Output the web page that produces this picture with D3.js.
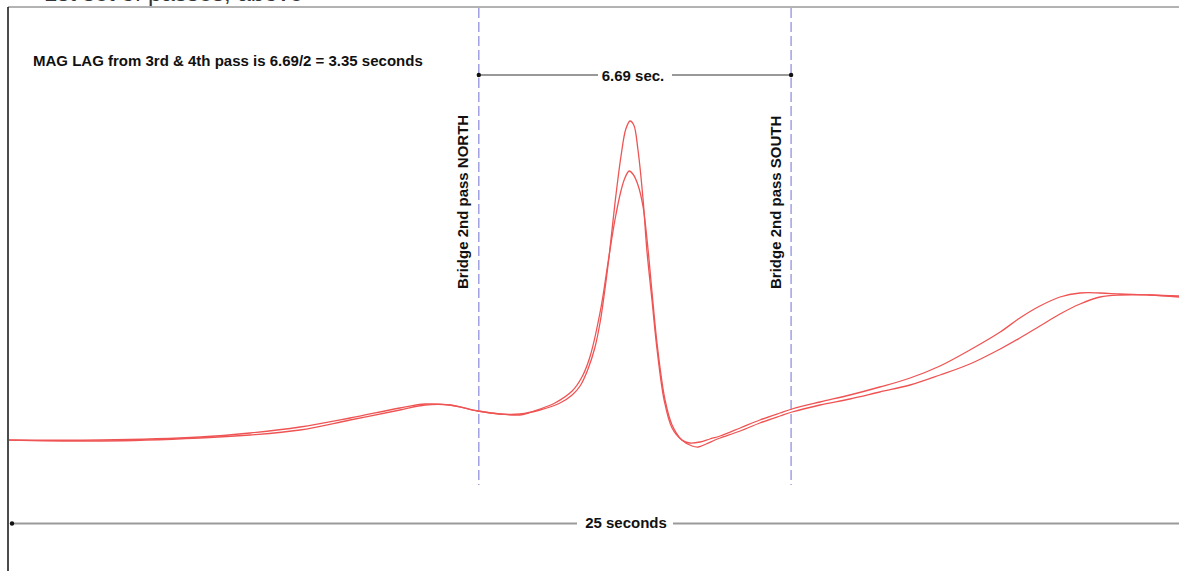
<!DOCTYPE html>
<html>
<head>
<meta charset="utf-8">
<script src="https://cdn.jsdelivr.net/npm/d3@7"></script>
<style>
  body { margin: 0; background: #fff; }
  svg { display: block; font-family: "Liberation Sans", Arial, sans-serif; }
</style>
</head>
<body>
<div id="chart"></div>
<script>
// pass A (taller peak) : time in seconds, signal in arbitrary units
var passA_t = [-0.09, 1.89, 4.03, 5.10, 6.17, 7.24, 8.31, 8.85, 9.38, 9.98, 10.45, 10.88, 11.31, 11.74, 12.00,
    12.17, 12.34, 12.49, 12.60, 12.68, 12.79, 12.92, 13.05, 13.15, 13.24, 13.32, 13.41, 13.52, 13.60, 13.71,
    13.82, 13.97, 14.14, 14.35, 14.52, 14.74, 14.95, 15.17, 15.60, 16.02, 16.45, 16.71, 17.31, 17.95, 18.59,
    19.24, 19.88, 20.52, 21.17, 21.59, 22.02, 22.45, 22.88, 23.31, 23.74, 24.38, 25.00];
var passA_v = [7, 7, 10, 14, 20, 29, 39, 43, 42, 36, 33, 33, 37, 44, 52,
    61, 78, 100, 125, 150, 190, 245, 292, 318, 326, 322, 297, 247, 197, 147,
    97, 47, 19, 7, 4, 5, 8, 11, 19, 27, 34, 38, 45, 52, 60,
    69, 81, 97, 115, 129, 141, 150, 154, 154, 153, 152, 150];

// pass B (lower peak)
var passB_t = [-0.09, 1.89, 4.03, 5.10, 6.17, 7.24, 8.31, 8.85, 9.38, 9.98, 10.45, 10.88, 11.31, 11.63, 12.00,
    12.21, 12.38, 12.62, 12.77, 12.92, 13.05, 13.13, 13.22, 13.30, 13.41, 13.52, 13.62, 13.71, 13.82, 13.99,
    14.14, 14.35, 14.57, 14.70, 14.87, 15.06, 15.17, 15.60, 16.02, 16.45, 16.71, 17.31, 17.95, 18.59, 19.24,
    19.88, 20.52, 21.17, 21.59, 22.02, 22.45, 22.88, 23.31, 23.74, 24.38, 25.00];
var passB_v = [7, 6, 9, 12, 17, 27, 37, 42, 42, 36, 33, 32, 38, 44, 56,
    70, 90, 140, 185, 228, 257, 269, 276, 273, 262, 240, 200, 155, 103, 47,
    22, 7, 1, 0, 3, 7, 9, 16, 24, 31, 35, 42, 48, 55, 62,
    72, 83, 98, 109, 121, 133, 143, 150, 152, 152, 151];

var bridgeTimes = [10.0, 16.69],
    bridgeLabels = ["Bridge 2nd pass NORTH", "Bridge 2nd pass SOUTH"],
    totalSeconds = 25,
    lagText = "MAG LAG from 3rd & 4th pass is 6.69/2 = 3.35 seconds",
    spanText = "6.69 sec.",
    totalText = "25 seconds",
    topText = "1st set of passes, above";

var width = 1179,
    height = 571,
    frameLeft = 8,
    frameTop = 7,
    lineColor = "#ef5454",
    dashColor = "#9a9ae2";

var svg = d3.select("#chart").append("svg")
    .attr("width", width)
    .attr("height", height);

var x = d3.scaleLinear()
    .domain([0, totalSeconds])
    .range([12, 1179]);

var y = d3.scaleLinear()
    .domain([0, 440])
    .range([447, 7]);

// caption of the page above, cut off by the crop
svg.append("text")
    .attr("x", 44)
    .attr("y", 0.5)
    .style("font-size", "24px")
    .attr("fill", "#333")
    .text(topText);

// frame
svg.append("line")
    .attr("x1", frameLeft).attr("x2", width)
    .attr("y1", frameTop).attr("y2", frameTop)
    .attr("stroke", "#666").attr("stroke-width", 1);
svg.append("line")
    .attr("x1", frameLeft).attr("x2", frameLeft)
    .attr("y1", frameTop).attr("y2", height)
    .attr("stroke", "#111").attr("stroke-width", 1.5);

// bridge markers
svg.selectAll("line.bridge")
    .data(bridgeTimes)
    .enter().append("line")
    .attr("class", "bridge")
    .attr("x1", d => x(d)).attr("x2", d => x(d))
    .attr("y1", frameTop + 1).attr("y2", 485)
    .attr("stroke", dashColor)
    .attr("stroke-width", 1.4)
    .attr("stroke-dasharray", "10,4");

svg.selectAll("text.bridge")
    .data(bridgeTimes)
    .enter().append("text")
    .attr("class", "bridge")
    .attr("transform", d => "translate(" + (x(d) - 10.5) + ",289) rotate(-90)")
    .style("font-size", "15px")
    .style("font-weight", "bold")
    .attr("fill", "#111")
    .text((d, i) => bridgeLabels[i]);

// signal traces
var line = d3.line()
    .x(d => x(d[0]))
    .y(d => y(d[1]))
    .curve(d3.curveCatmullRom.alpha(0.5));

var series = [d3.zip(passA_t, passA_v), d3.zip(passB_t, passB_v)];

svg.append("clipPath").attr("id", "clip")
    .append("rect")
    .attr("x", frameLeft + 1).attr("y", frameTop)
    .attr("width", width).attr("height", height);

svg.append("g")
    .attr("clip-path", "url(#clip)")
    .selectAll("path")
    .data(series)
    .enter().append("path")
    .attr("d", line)
    .attr("fill", "none")
    .attr("stroke", lineColor)
    .attr("stroke-width", 1.3);

// lag annotation
svg.append("text")
    .attr("x", 33)
    .attr("y", 66)
    .style("font-size", "15px")
    .style("font-weight", "bold")
    .attr("fill", "#111")
    .text(lagText);

var spanMid = 635, spanHalfGap = 37;
svg.append("line")
    .attr("x1", x(bridgeTimes[0])).attr("x2", spanMid - spanHalfGap)
    .attr("y1", 75).attr("y2", 75)
    .attr("stroke", "#333").attr("stroke-width", 1);
svg.append("line")
    .attr("x1", spanMid + spanHalfGap).attr("x2", x(bridgeTimes[1]))
    .attr("y1", 75).attr("y2", 75)
    .attr("stroke", "#333").attr("stroke-width", 1);
svg.selectAll("circle.span")
    .data(bridgeTimes)
    .enter().append("circle")
    .attr("class", "span")
    .attr("cx", d => x(d)).attr("cy", 75).attr("r", 2.2)
    .attr("fill", "#111");
svg.append("text")
    .attr("x", spanMid - 2)
    .attr("y", 81)
    .attr("text-anchor", "middle")
    .style("font-size", "15px")
    .style("font-weight", "bold")
    .attr("fill", "#111")
    .text(spanText);

// total duration bar
var totMid = 626;
svg.append("line")
    .attr("x1", x(0)).attr("x2", totMid - 49)
    .attr("y1", 523.5).attr("y2", 523.5)
    .attr("stroke", "#9a9a9a").attr("stroke-width", 2);
svg.append("line")
    .attr("x1", totMid + 47).attr("x2", x(totalSeconds))
    .attr("y1", 523.5).attr("y2", 523.5)
    .attr("stroke", "#9a9a9a").attr("stroke-width", 2);
svg.append("circle")
    .attr("cx", x(0)).attr("cy", 523.5).attr("r", 2.2)
    .attr("fill", "#111");
svg.append("text")
    .attr("x", totMid)
    .attr("y", 528)
    .attr("text-anchor", "middle")
    .style("font-size", "15px")
    .style("font-weight", "bold")
    .attr("fill", "#111")
    .text(totalText);
</script>
</body>
</html>
